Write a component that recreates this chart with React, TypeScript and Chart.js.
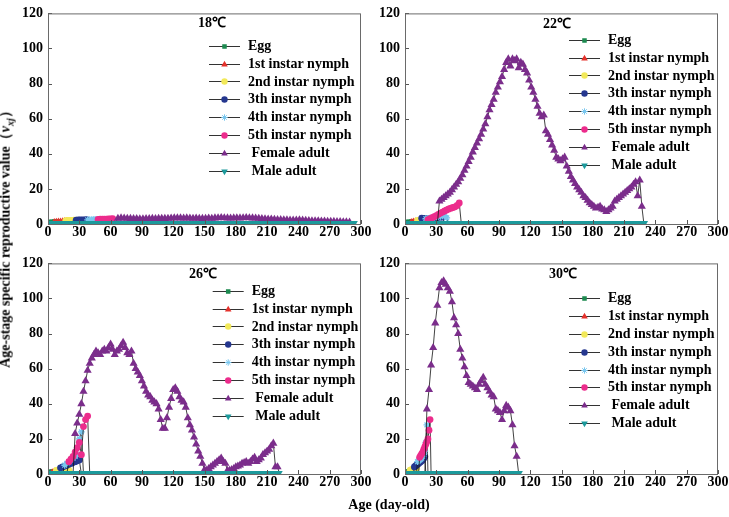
import React, { useEffect, useRef } from "react";
import { Chart, registerables } from "chart.js";
import { drawPoint } from "chart.js/helpers";

Chart.register(...registerables);

const FONT = '"Liberation Serif", "Times New Roman", serif';

const stageNames = [
  "Egg",
  "1st instar nymph",
  "2nd instar nymph",
  "3th instar nymph",
  "4th instar nymph",
  "5th instar nymph",
  " Female adult",
  " Male adult",
];
const stageColors = ["#1d8a50", "#e5312b", "#f2e95a", "#25378f", "#78c6ee", "#ec2c8c", "#7b2d8b", "#1c9a9c"];
const stageMarkers = ["rect", "triangle", "circle", "circle", "star", "circle", "triangle", "triangle"];

const xTicks = { min: 0, max: 300, step: 30 };
const yTicks = { min: 0, max: 120, step: 20 };

// ---- 18 °C ----
const start18 = [0, 4, 15, 25, 36, 46, 64, 0];
const step18 = [2, 2, 2, 2, 2, 2, 3, 4];
const egg18 = [1.0, 1.1, 1.2, 1.3, 1.3, 1.4, 0];
const first18 = [0, 1.5, 1.6, 1.7, 1.8, 1.9, 2.0, 2.1, 0];
const second18 = [0, 1.9, 2.0, 2.1, 2.1, 2.2, 2.2, 0];
const third18 = [0, 2.2, 2.3, 2.3, 2.4, 2.4, 2.5, 0];
const fourth18 = [0, 2.4, 2.5, 2.5, 2.6, 2.6, 0];
const fifth18 = [0, 2.6, 2.7, 2.7, 2.8, 2.8, 2.9, 2.9, 3.0, 0];
const female18 = [
  0,
  3.2, 3.4, 3.3, 3.2, 3.1, 3.0, 3.0, 2.9, 2.9, 3.0,
  3.0, 3.1, 3.0, 3.1, 3.2, 3.1, 3.2, 3.3, 3.4, 3.5,
  3.4, 3.3, 3.4, 3.3, 3.2, 3.3, 3.2, 3.1, 3.2, 3.3,
  3.2, 3.4, 3.5, 3.6, 3.5, 3.4, 3.3, 3.4, 3.5, 3.4,
  3.5, 3.6, 3.5, 3.4, 3.3, 3.2, 3.0, 2.9, 2.8, 2.7,
  2.6, 2.5, 2.4, 2.3, 2.3, 2.2, 2.1, 2.2, 2.3, 2.1,
  2.0, 1.9, 1.8, 1.8, 1.7, 1.6, 1.6, 1.5, 1.5, 1.4,
  1.3, 1.3, 1.2, 1.1, 1.0,
  0,
];
const male18 = [
  0, 0, 0, 0, 0, 0, 0, 0, 0, 0, 0, 0, 0, 0, 0, 0, 0, 0, 0, 0,
  0, 0, 0, 0, 0, 0, 0, 0, 0, 0, 0, 0, 0, 0, 0, 0, 0, 0, 0, 0,
  0, 0, 0, 0, 0, 0, 0, 0, 0, 0, 0, 0, 0, 0, 0, 0, 0, 0, 0, 0,
  0, 0, 0, 0, 0, 0, 0, 0, 0, 0, 0, 0, 0, 0,
];

// ---- 22 °C ----
const start22 = [0, 4, 10, 14, 18, 20, 31, 0];
const step22 = [2, 2, 2, 2, 2, 2, 2, 4];
const egg22 = [1.0, 1.1, 1.2, 1.3, 1.4, 0];
const first22 = [0, 1.5, 1.7, 1.9, 2.1, 2.3, 0];
const second22 = [0, 2.0, 2.2, 2.4, 2.6, 2.8, 3.0, 0];
const third22 = [0, 3.3, 3.2, 3.0, 2.9, 3.0, 3.1, 3.3, 3.5, 3.8, 4.0, 3.9, 0];
const fourth22 = [0, 3.0, 3.2, 3.4, 3.6, 3.8, 4.0, 4.2, 4.4, 4.6, 4.8, 3.5, 0];
const fifth22 = [0, 2.5, 3.0, 3.6, 4.2, 4.8, 5.5, 6.2, 6.8, 7.4, 8.0, 8.6, 9.0, 9.4, 9.8, 10.6, 12.0, 0];
const female22 = [
  0, 13, 14, 15, 16, 17, 18, 19.5, 21, 22.5,
  24, 26, 28, 30.5, 33, 35.5, 38, 41, 43.5, 46,
  48.5, 51, 54, 57, 61, 65, 68, 71, 75, 78,
  81, 84, 88, 92, 94, 90, 94, 93, 94, 89,
  92, 91, 88, 86, 82, 78, 75, 71, 67, 63,
  61, 62, 53, 51, 48, 45, 42, 38, 37, 36,
  37, 38, 33, 30, 27, 25, 23, 21, 19.5, 18,
  16, 15, 13.5, 12, 11, 10, 9, 9.5, 10, 8.5,
  8, 7, 8, 9, 10, 13, 14, 15, 16, 17,
  18, 19, 20, 21, 22.5, 24, 16, 25, 10, 0,
];
const male22 = [
  0, 0, 0, 0, 0, 0, 0, 0, 0, 0, 0, 0, 0, 0, 0, 0, 0, 0, 0, 0,
  0, 0, 0, 0, 0, 0, 0, 0, 0, 0, 0, 0, 0, 0, 0, 0, 0, 0, 0, 0,
  0, 0, 0, 0, 0, 0, 0, 0, 0, 0, 0, 0, 0, 0, 0, 0, 0, 0,
];

// ---- 26 °C ----
const start26 = [0, 2, 6, 10, 14, 18, 24, 0];
const step26 = [2, 2, 2, 2, 2, 2, 2, 4];
const egg26 = [1.0, 1.2, 1.3, 1.4, 0];
const first26 = [0, 1.4, 1.7, 2.0, 2.3, 0];
const second26 = [0, 2.0, 2.3, 2.6, 2.9, 3.0, 2.5, 2.2, 0];
const third26 = [0, 3.5, 4.0, 4.5, 5.0, 5.5, 6.0, 6.5, 7.0, 7.5, 8.0, 0];
const fourth26 = [0, 5.0, 6.0, 7.0, 8.0, 9.0, 10.0, 11.0, 20.0, 24.0, 0];
const fifth26 = [0, 7.0, 8.5, 10.0, 12.5, 15.0, 18.0, 11.0, 27.0, 31.0, 33.0, 0];
const female26 = [
  0, 23, 29, 34, 40, 47, 53, 59, 63, 66,
  68, 70, 69, 68, 70, 71, 70, 72, 74, 71,
  68, 70, 71, 73, 75, 72, 69, 68, 70, 63,
  60, 58, 56, 53, 50, 47, 45, 44, 42, 41,
  40, 37, 31, 26, 26, 32, 38, 43, 48, 49,
  47, 44, 42, 41, 38, 32, 28, 25, 21, 17,
  13, 10, 6, 2.5, 2, 3, 4, 5, 6, 7,
  8, 9, 7, 6, 2, 2, 2.5, 3, 4, 4.5,
  5, 6, 6.5, 7, 6, 7, 8.5, 9.5, 7, 8,
  9, 11, 12, 13, 14, 16, 17.5, 4, 4, 0,
];
const male26 = [
  0, 0, 0, 0, 0, 0, 0, 0, 0, 0, 0, 0, 0, 0, 0, 0, 0, 0, 0, 0,
  0, 0, 0, 0, 0, 0, 0, 0, 0, 0, 0, 0, 0, 0, 0, 0, 0, 0, 0, 0,
  0, 0, 0, 0, 0, 0, 0, 0, 0, 0, 0, 0, 0, 0, 0, 0,
];

// ---- 30 °C ----
const start30 = [0, 2, 4, 8, 11, 13, 19, 0];
const step30 = [1, 1, 1, 1, 1, 1, 2, 4];
const egg30 = [1.0, 1.1, 1.2, 1.3, 1.4, 1.5, 0];
const first30 = [0, 1.5, 1.7, 1.9, 2.1, 2.3, 2.5, 0];
const second30 = [0, 2.2, 2.4, 2.6, 2.8, 3.0, 3.2, 3.4, 0];
const third30 = [0, 4.0, 4.5, 5.0, 5.5, 6.0, 6.5, 7.0, 7.5, 8.0, 9.0, 10.0, 0];
const fourth30 = [0, 7.0, 7.5, 8.0, 8.5, 9.0, 10.0, 11.0, 13.0, 18.0, 28.0, 0];
const fifth30 = [0, 9.5, 10.5, 11.5, 12.5, 14.0, 15.5, 17.0, 18.5, 20.0, 25.0, 31.0, 0];
const female30 = [
  0, 37, 48, 62, 72, 86, 96, 106, 109, 110,
  108, 106, 104, 98, 89, 85, 80, 71, 66, 61,
  56, 52, 51, 50, 49, 48, 51, 53, 55, 51,
  49, 47, 45, 44, 37, 36, 35, 31, 36, 39,
  38, 36, 28, 16, 10, 0,
];
const male30 = [
  0, 0, 0, 0, 0, 0, 0, 0, 0, 0, 0, 0, 0, 0,
  0, 0, 0, 0, 0, 0, 0, 0, 0, 0, 0, 0, 0, 0,
];

type PanelProps = {
  title: string;
  starts: number[];
  steps: number[];
  series: number[][];
  left: number;
  top: number;
  legendLeft: number;
  legendTop: number;
  titleX: number;
  titleY: number;
};

// box, inner ticks, panel title and the in-plot legend
const panelDecor = {
  id: "panelDecor",
  afterDraw(chart: any, _args: any, opts: any) {
    const { ctx, chartArea: a, scales } = chart;
    ctx.save();
    ctx.strokeStyle = "#555";
    ctx.lineWidth = 1;
    ctx.beginPath();
    for (const t of scales.x.ticks) {
      const px = Math.round(scales.x.getPixelForValue(t.value)) + 0.5;
      ctx.moveTo(px, a.bottom);
      ctx.lineTo(px, a.bottom - 4);
    }
    for (const t of scales.y.ticks) {
      const py = Math.round(scales.y.getPixelForValue(t.value)) + 0.5;
      ctx.moveTo(a.left, py);
      ctx.lineTo(a.left + 4, py);
    }
    ctx.stroke();
    ctx.strokeStyle = "#6a6a6a";
    ctx.strokeRect(a.left + 0.5, a.top + 0.5, a.right - a.left - 1, a.bottom - a.top);

    ctx.fillStyle = "#000";
    ctx.font = `bold 14px ${FONT}`;
    ctx.textAlign = "center";
    ctx.textBaseline = "middle";
    ctx.fillText(opts.title, a.left + opts.titleX, a.top + opts.titleY);

    ctx.textAlign = "left";
    stageNames.forEach((name, i) => {
      const y = a.top + opts.legendTop + i * 17.85;
      const x0 = a.left + opts.legendLeft;
      ctx.strokeStyle = "#333";
      ctx.lineWidth = 1;
      ctx.beginPath();
      ctx.moveTo(x0, Math.round(y) + 0.5);
      ctx.lineTo(x0 + 31, Math.round(y) + 0.5);
      ctx.stroke();
      ctx.fillStyle = stageColors[i];
      ctx.strokeStyle = stageColors[i];
      drawPoint(
        ctx,
        {
          pointStyle: stageMarkers[i] as any,
          rotation: i === 7 ? 180 : 0,
          radius: stageMarkers[i] === "triangle" ? 3.8 : 3.2,
          borderWidth: stageMarkers[i] === "star" ? 1.3 : 0,
        },
        x0 + 15.5,
        Math.round(y) + 0.5
      );
      ctx.fillStyle = "#000";
      ctx.fillText(name, x0 + 39, y + 0.5);
    });
    ctx.restore();
  },
};

const Panel: React.FC<PanelProps> = (p) => {
  const canvasRef = useRef<HTMLCanvasElement | null>(null);

  useEffect(() => {
    const canvas = canvasRef.current;
    if (!canvas) return;

    const datasets = p.series.map((vals, i) => ({
      label: stageNames[i],
      data: vals.map((v, k) => ({ x: p.starts[i] + k * p.steps[i], y: v })),
      showLine: true,
      borderColor: "#111",
      borderWidth: 0.8,
      pointStyle: stageMarkers[i],
      rotation: i === 7 ? 180 : 0,
      pointRadius:
        i === 7
          ? 6
          : (c: any) => (c.raw && c.raw.y === 0 ? 0 : i === 6 ? 4.7 : 3.4),
      pointBackgroundColor: stageColors[i],
      pointBorderColor: stageColors[i],
      pointBorderWidth: stageMarkers[i] === "star" ? 1.3 : 0,
      order: 7 - i,
    }));

    const tickFont = { family: FONT, weight: "bold" as const, size: 14 };

    const chart = new Chart(canvas, {
      type: "line",
      data: { datasets },
      options: {
        responsive: false,
        animation: false,
        layout: { padding: { top: 6, right: 11, left: 0, bottom: 0 } },
        scales: {
          x: {
            type: "linear",
            min: xTicks.min,
            max: xTicks.max,
            ticks: { stepSize: xTicks.step, color: "#000", font: tickFont, padding: 0, maxRotation: 0 },
            grid: { display: false, drawTicks: false },
            border: { display: false },
            afterFit: (s: any) => {
              s.height = 26;
            },
          },
          y: {
            min: yTicks.min,
            max: yTicks.max,
            ticks: { stepSize: yTicks.step, color: "#000", font: tickFont, padding: 5 },
            grid: { display: false, drawTicks: false },
            border: { display: false },
            afterFit: (s: any) => {
              s.width = 48;
            },
          },
        },
        plugins: {
          legend: { display: false },
          tooltip: { enabled: false },
          panelDecor: {
            title: p.title,
            legendLeft: p.legendLeft,
            legendTop: p.legendTop,
            titleX: p.titleX,
            titleY: p.titleY,
          },
        } as any,
      },
      plugins: [panelDecor],
    });

    return () => chart.destroy();
  }, []);

  return (
    <canvas
      ref={canvasRef}
      width={372}
      height={250}
      style={{ position: "absolute", left: p.left, top: p.top, width: 372, height: 250 }}
    />
  );
};

const App: React.FC = () => {
  return (
    <div
      style={{
        position: "absolute",
        left: 0,
        top: 0,
        width: 729,
        height: 517,
        background: "#fff",
        fontFamily: FONT,
        overflow: "hidden",
      }}
    >
      <Panel
        title="18℃"
        starts={start18}
        steps={step18}
        series={[egg18, first18, second18, third18, fourth18, fifth18, female18, male18]}
        left={0}
        top={0}
        legendLeft={161}
        legendTop={32.3}
        titleX={164}
        titleY={10}
      />
      <Panel
        title="22℃"
        starts={start22}
        steps={step22}
        series={[egg22, first22, second22, third22, fourth22, fifth22, female22, male22]}
        left={357}
        top={0}
        legendLeft={164}
        legendTop={26.3}
        titleX={152}
        titleY={10.7}
      />
      <Panel
        title="26℃"
        starts={start26}
        steps={step26}
        series={[egg26, first26, second26, third26, fourth26, fifth26, female26, male26]}
        left={0}
        top={250}
        legendLeft={164.7}
        legendTop={27.3}
        titleX={155}
        titleY={10.7}
      />
      <Panel
        title="30℃"
        starts={start30}
        steps={step30}
        series={[egg30, first30, second30, third30, fourth30, fifth30, female30, male30]}
        left={357}
        top={250}
        legendLeft={164}
        legendTop={34.7}
        titleX={158}
        titleY={11.3}
      />
      <div
        style={{
          position: "absolute",
          left: 8,
          top: 236,
          transform: "translate(-50%, -50%) rotate(-90deg)",
          whiteSpace: "nowrap",
          fontWeight: "bold",
          fontSize: 14,
          lineHeight: "16px",
        }}
      >
        Age-stage specific reproductive value（<i>v</i>
        <sub style={{ fontSize: 10 }}>
          <i>xj</i>
        </sub>
        ）
      </div>
      <div
        style={{
          position: "absolute",
          left: 389,
          top: 505,
          transform: "translate(-50%, -50%)",
          whiteSpace: "nowrap",
          fontWeight: "bold",
          fontSize: 14,
        }}
      >
        Age (day-old)
      </div>
    </div>
  );
};

export default App;
